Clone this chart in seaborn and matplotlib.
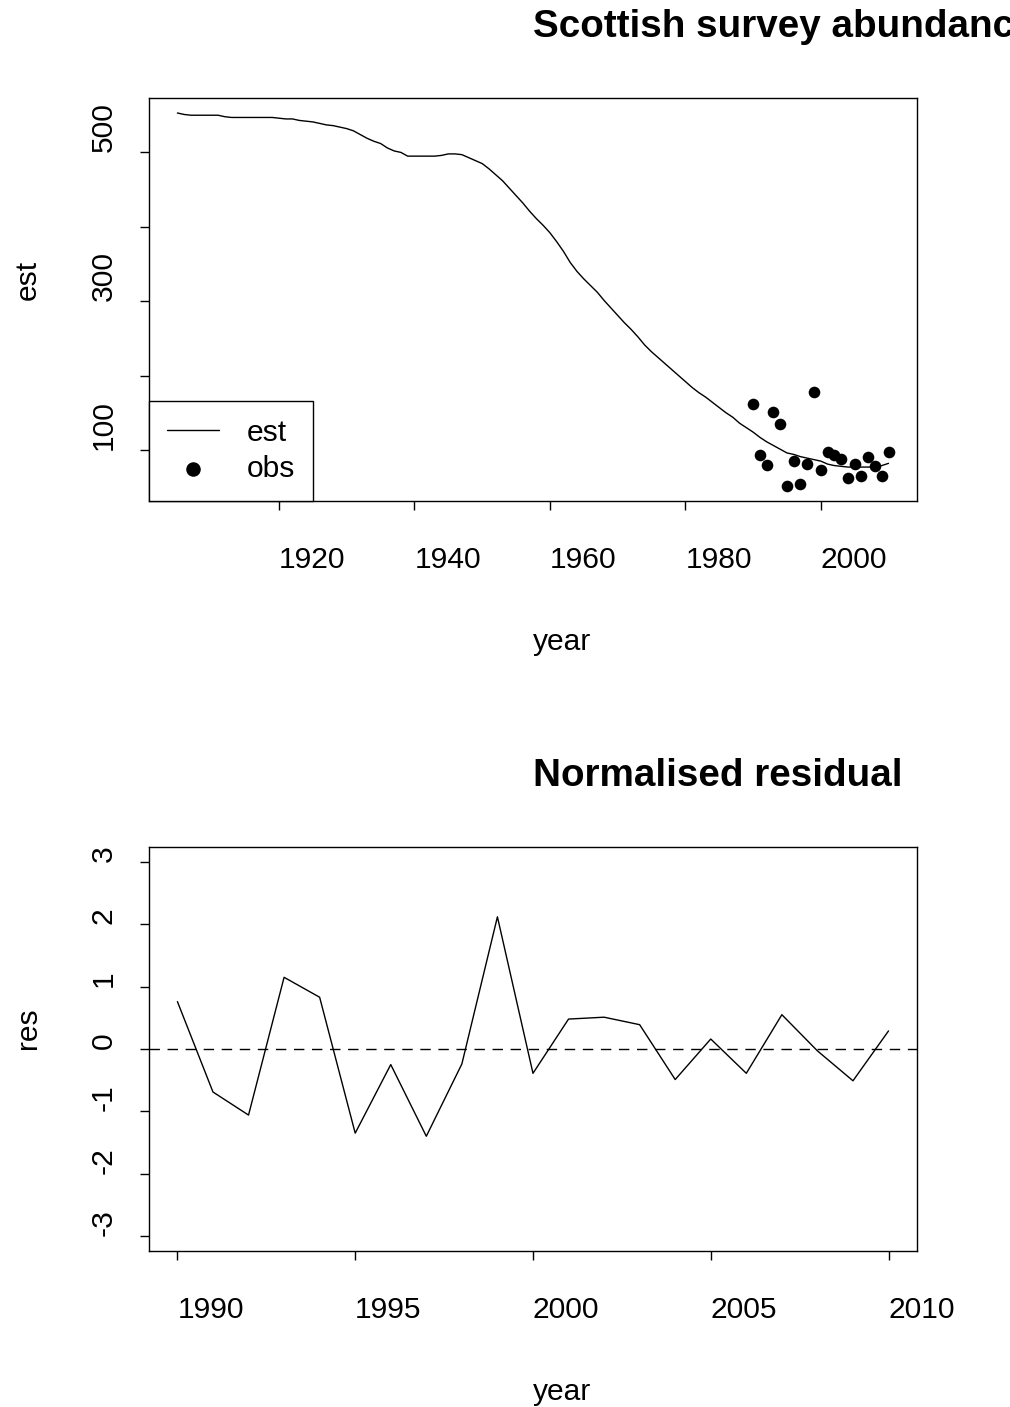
import matplotlib
matplotlib.use("Agg")
import matplotlib.pyplot as plt
import numpy as np
import seaborn as sns

# ------------------------------------------------------------------
# Data
# ------------------------------------------------------------------
est_years = list(range(1905, 2011))
est_values = [
    553, 551, 550, 550, 550, 550, 550, 548, 547, 547,   # 1905-1914
    547, 547, 547, 547, 547, 546, 545, 545, 543, 542,   # 1915-1924
    541, 539, 537, 536, 534, 532, 529, 524, 519, 515,   # 1925-1934
    512, 506, 502, 500, 495, 495, 495, 495, 495, 496,   # 1935-1944
    498, 498, 497, 493, 489, 485, 478, 470, 462, 452,   # 1945-1954
    442, 432, 421, 411, 402, 392, 380, 367, 352, 340,   # 1955-1964
    330, 321, 312, 301, 291, 281, 271, 262, 252, 241,   # 1965-1974
    232, 224, 216, 208, 200, 192, 184, 177, 171, 164,   # 1975-1984
    157, 150, 144, 136, 130, 124, 117, 111, 106, 101,   # 1985-1994
    96, 94, 91, 89, 87, 85, 81, 79, 78, 77,             # 1995-2004
    77, 77, 77, 77, 79, 82,                             # 2005-2010
]

obs_years = list(range(1990, 2011))
obs_values = [
    161.5, 93.7, 80.3, 150.8, 135.2, 51.4, 85.7, 54.5, 81.3, 177.6,
    72.8, 96.9, 93.7, 88.0, 62.5, 81.3, 64.8, 90.6, 79.0, 64.8, 96.9,
]

res_years = list(range(1990, 2011))
res_values = [
    0.76, -0.69, -1.06, 1.15, 0.83, -1.35, -0.25, -1.40, -0.24, 2.12,
    -0.39, 0.48, 0.51, 0.39, -0.49, 0.16, -0.39, 0.55, -0.03, -0.51, 0.29,
]

top_xticks = [1920, 1940, 1960, 1980, 2000]
top_yticks = [100, 200, 300, 400, 500]
top_ylabels = ["100", "", "300", "", "500"]
bot_xticks = [1990, 1995, 2000, 2005, 2010]
bot_yticks = [-3, -2, -1, 0, 1, 2, 3]

# ------------------------------------------------------------------
# Style
# ------------------------------------------------------------------
sns.set_theme(style="ticks", rc={
    "axes.edgecolor": "black",
    "axes.linewidth": 1.0,
    "xtick.color": "black",
    "ytick.color": "black",
    "xtick.major.size": 6.5,
    "ytick.major.size": 6.5,
    "xtick.major.width": 1.0,
    "ytick.major.width": 1.0,
    "text.color": "black",
    "axes.labelcolor": "black",
})
plt.rcParams["font.family"] = ["Liberation Sans", "DejaVu Sans"]

FS = 21.6
TITLE_FS = 27.8


def r_pad(lo, hi, frac=0.04):
    span = hi - lo
    return lo - frac * span, hi + frac * span


def style_axis(ax, xticks, yticks, ylabels, xlabel, ylabel, title):
    ax.set_xticks(xticks, [str(t) for t in xticks], ha="left", fontsize=FS)
    ax.set_yticks(yticks, ylabels, rotation=90, va="bottom", fontsize=FS)
    ax.tick_params(axis="x", pad=26)
    ax.tick_params(axis="y", pad=16)
    ax.set_xlabel(xlabel, fontsize=FS, ha="left", va="baseline")
    ax.xaxis.set_label_coords(0.5, -0.37)
    ax.set_ylabel(ylabel, fontsize=FS, ha="left", va="center")
    ax.yaxis.set_label_coords(-0.158, 0.5)
    ax.set_title(title, loc="center", ha="left", fontsize=TITLE_FS,
                 fontweight="bold", pad=44)
    for sp in ax.spines.values():
        sp.set_visible(True)


fig = plt.figure(figsize=(10.1, 14.07), dpi=100)
ax1 = fig.add_axes([0.1475, 0.6439, 0.7604, 0.2864])
ax2 = fig.add_axes([0.1475, 0.1109, 0.7604, 0.2871])

# ------------------------------------------------------------------
# 1. Abundance: estimate line + observed points
# ------------------------------------------------------------------
sns.lineplot(x=est_years, y=est_values, color="black", linewidth=1.0,
             label="est", ax=ax1)
sns.scatterplot(x=obs_years, y=obs_values, color="black", s=70,
                linewidth=0, label="obs", ax=ax1)

ax1.set_xlim(*r_pad(min(est_years), max(est_years)))
ax1.set_ylim(*r_pad(min(min(est_values), min(obs_values)),
                    max(max(est_values), max(obs_values))))
style_axis(ax1, top_xticks, top_yticks, top_ylabels, "year", "est",
           "Scottish survey abundance")

leg = ax1.legend(loc="lower left", borderaxespad=0, fontsize=FS,
                 fancybox=False, framealpha=1, edgecolor="black",
                 handlelength=1.75, handletextpad=0.9, labelspacing=0.27,
                 borderpad=0.6, markerscale=1.25)
leg.get_frame().set_linewidth(1.0)

# ------------------------------------------------------------------
# 2. Normalised residuals
# ------------------------------------------------------------------
sns.lineplot(x=res_years, y=res_values, color="black", linewidth=1.0, ax=ax2)
ax2.axhline(0, color="black", linewidth=1.0, dashes=(7.5, 5.5))

ax2.set_xlim(*r_pad(min(res_years), max(res_years)))
ax2.set_ylim(*r_pad(min(bot_yticks), max(bot_yticks)))
style_axis(ax2, bot_xticks, bot_yticks, [str(t) for t in bot_yticks],
           "year", "res", "Normalised residual")

fig.savefig("out.png", dpi=100)
